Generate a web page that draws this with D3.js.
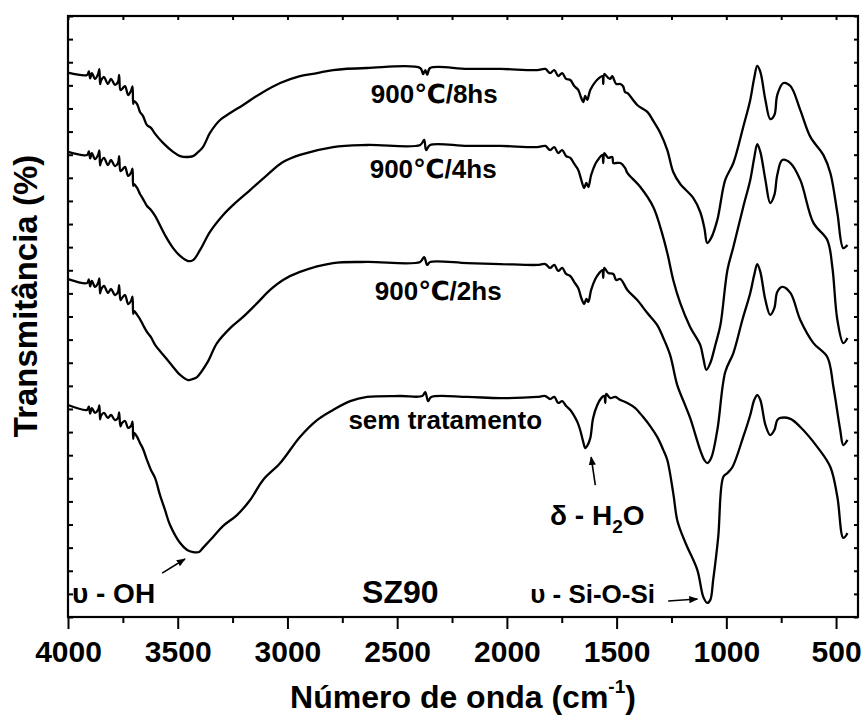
<!DOCTYPE html>
<html>
<head>
<meta charset="utf-8">
<script src="https://cdn.jsdelivr.net/npm/d3@7"></script>
<style>
  html, body { margin: 0; padding: 0; background: #fff; }
  svg { display: block; }
  text { font-family: "Liberation Sans", Arial, "DejaVu Sans", sans-serif; font-weight: bold; fill: #000; }
</style>
</head>
<body>
<svg id="chart" width="863" height="716"></svg>
<script>
// ---------------- DATA (wavenumber cm^-1, transmittance a.u.) ----------------
const xMajorTicks = [4000, 3500, 3000, 2500, 2000, 1500, 1000, 500];
const xMinorTicks = [3750, 3250, 2750, 2250, 1750, 1250, 750];
const yTicks = d3.range(0, 27, 1);

const seriesNames = ["900℃/8hs", "900℃/4hs", "900℃/2hs", "sem tratamento"];

const spectrum8h = [[4000,23.55],[3913,23.45],[3905,23.60],[3899,23.30],[3891,23.53],[3877,23.28],[3863,23.49],[3857,23.70],[3854,23.05],[3850,23.19],[3836,23.36],[3818,23.06],[3804,23.28],[3786,23.02],[3772,23.15],[3767,23.45],[3761,22.80],[3754,22.84],[3740,22.97],[3726,22.58],[3713,22.76],[3706,22.95],[3703,22.20],[3699,22.32],[3685,22.19],[3672,21.85],[3658,21.67],[3640,21.28],[3622,21.16],[3603,20.90],[3567,20.51],[3521,20.12],[3489,19.94],[3457,19.90],[3430,19.94],[3412,20.07],[3385,20.33],[3353,20.94],[3307,21.50],[3261,21.80],[3202,22.15],[3125,22.63],[3033,23.10],[2943,23.40],[2865,23.53],[2792,23.66],[2637,23.75],[2395,23.75],[2382,23.49],[2372,23.66],[2363,23.45],[2350,23.75],[2181,23.71],[2030,23.71],[1862,23.66],[1825,23.71],[1803,23.53],[1784,23.66],[1766,23.40],[1748,23.53],[1730,23.28],[1711,23.23],[1693,22.97],[1675,22.80],[1661,22.45],[1652,22.28],[1643,22.54],[1634,22.37],[1620,22.80],[1597,23.15],[1579,23.32],[1565,23.40],[1561,23.06],[1556,23.49],[1538,23.32],[1529,23.28],[1520,23.40],[1502,23.06],[1483,23.06],[1470,22.95],[1461,22.70],[1451,22.67],[1406,22.15],[1360,21.85],[1333,21.46],[1301,20.94],[1269,20.20],[1242,19.25],[1210,18.73],[1151,18.13],[1119,17.52],[1100,16.83],[1087,16.18],[1069,16.40],[1041,17.18],[1005,18.91],[968,19.64],[923,21.20],[891,22.37],[873,23.32],[859,23.84],[845,23.58],[822,22.37],[800,21.54],[781,21.72],[768,22.58],[740,23.10],[708,22.97],[663,21.93],[617,20.77],[558,19.99],[526,19.21],[494,17.48],[467,15.96],[448,16.09]];

const spectrum4h = [[4000,20.12],[3913,19.99],[3905,20.14],[3899,19.84],[3891,20.07],[3877,19.81],[3863,19.99],[3857,20.19],[3854,19.54],[3850,19.68],[3836,19.86],[3818,19.55],[3804,19.77],[3786,19.51],[3772,19.64],[3767,19.94],[3761,19.29],[3754,19.34],[3740,19.47],[3726,19.08],[3713,19.21],[3706,19.40],[3703,18.65],[3699,18.73],[3685,18.56],[3672,18.30],[3658,18.08],[3640,17.78],[3622,17.61],[3603,17.35],[3558,16.52],[3521,15.96],[3489,15.62],[3453,15.40],[3430,15.44],[3398,15.88],[3353,16.66],[3293,17.39],[3248,17.82],[3170,18.47],[3093,19.12],[3020,19.68],[2943,19.99],[2792,20.33],[2637,20.42],[2395,20.42],[2377,20.64],[2368,20.20],[2350,20.42],[2181,20.38],[2030,20.38],[1862,20.33],[1825,20.38],[1803,20.20],[1784,20.33],[1766,20.07],[1748,20.20],[1730,19.94],[1711,19.86],[1693,19.60],[1675,19.34],[1661,18.91],[1648,18.56],[1638,18.78],[1629,18.60],[1616,19.12],[1597,19.60],[1579,19.86],[1565,19.99],[1561,19.64],[1556,20.07],[1538,19.86],[1520,19.90],[1515,19.64],[1502,19.64],[1483,19.64],[1461,19.42],[1451,19.21],[1392,18.60],[1333,17.74],[1301,16.87],[1269,15.75],[1242,14.58],[1210,13.58],[1165,12.55],[1119,11.77],[1105,11.20],[1091,10.69],[1073,10.99],[1050,11.77],[1027,12.63],[995,15.01],[968,16.01],[923,17.74],[891,18.91],[873,19.86],[859,20.46],[845,20.12],[822,18.91],[800,17.91],[781,18.26],[768,19.12],[745,19.77],[708,19.64],[663,18.91],[603,17.05],[540,16.31],[517,15.14],[494,12.85],[467,11.85],[448,12.07]];

const spectrum2h = [[4000,14.62],[3913,14.45],[3905,14.60],[3899,14.30],[3891,14.54],[3877,14.28],[3863,14.45],[3857,14.65],[3854,14.00],[3850,14.15],[3836,14.32],[3818,14.02],[3804,14.19],[3786,13.93],[3772,14.06],[3767,14.36],[3761,13.71],[3754,13.80],[3740,13.93],[3726,13.54],[3713,13.67],[3706,13.86],[3703,13.11],[3699,13.24],[3685,13.07],[3672,12.89],[3658,12.63],[3640,12.33],[3622,12.11],[3603,11.77],[3558,11.25],[3521,10.82],[3489,10.47],[3453,10.25],[3430,10.30],[3412,10.38],[3366,10.99],[3321,11.85],[3261,12.50],[3202,12.98],[3138,13.58],[3079,14.15],[3020,14.58],[2943,14.93],[2792,15.31],[2637,15.36],[2395,15.36],[2377,15.57],[2363,15.23],[2350,15.36],[2181,15.31],[2030,15.27],[1862,15.23],[1825,15.27],[1803,15.10],[1784,15.23],[1766,14.97],[1748,15.10],[1730,14.84],[1711,14.75],[1693,14.49],[1675,14.23],[1661,13.80],[1648,13.54],[1638,13.76],[1629,13.63],[1616,14.15],[1597,14.62],[1579,14.88],[1565,15.01],[1561,14.67],[1556,15.10],[1538,14.88],[1515,14.84],[1502,14.58],[1483,14.62],[1451,14.15],[1406,13.71],[1360,13.15],[1315,12.63],[1287,12.07],[1256,11.33],[1224,10.04],[1192,9.26],[1165,8.61],[1119,7.22],[1100,6.79],[1087,6.66],[1069,6.88],[1041,8.09],[1005,10.60],[968,11.42],[927,12.85],[891,14.02],[873,14.80],[859,15.27],[845,14.93],[822,13.71],[800,13.07],[781,13.37],[768,14.06],[745,14.28],[708,14.02],[663,12.85],[603,11.85],[540,11.25],[512,9.95],[481,8.09],[467,7.44],[448,7.66]];

const spectrumRaw = [[4000,9.17],[3913,8.96],[3905,9.10],[3899,8.80],[3891,9.04],[3877,8.83],[3863,8.96],[3857,9.15],[3854,8.55],[3850,8.70],[3836,8.83],[3818,8.61],[3804,8.74],[3786,8.52],[3772,8.61],[3767,8.85],[3761,8.25],[3754,8.39],[3740,8.48],[3726,8.18],[3713,8.26],[3706,8.45],[3703,7.70],[3699,7.96],[3685,7.79],[3672,7.53],[3658,7.27],[3640,6.79],[3622,6.36],[3603,6.01],[3581,5.28],[3558,4.63],[3535,3.98],[3489,3.20],[3457,2.90],[3430,2.81],[3403,2.81],[3385,2.99],[3339,3.46],[3293,3.94],[3230,4.41],[3170,5.06],[3111,5.93],[3033,6.66],[2943,7.79],[2865,8.52],[2792,8.96],[2714,9.34],[2637,9.52],[2486,9.56],[2386,9.56],[2372,9.73],[2359,9.34],[2345,9.52],[2181,9.52],[2030,9.47],[1862,9.52],[1825,9.56],[1803,9.43],[1784,9.52],[1766,9.26],[1748,9.34],[1730,9.13],[1711,8.96],[1698,8.78],[1679,8.44],[1666,8.09],[1652,7.57],[1643,7.31],[1634,7.40],[1620,7.74],[1607,8.61],[1588,9.17],[1570,9.47],[1556,9.56],[1552,9.26],[1547,9.65],[1529,9.47],[1506,9.52],[1483,9.39],[1451,9.26],[1415,9.04],[1379,8.65],[1347,8.26],[1315,7.79],[1287,7.22],[1269,6.79],[1242,5.36],[1224,4.20],[1201,3.55],[1178,3.03],[1132,2.03],[1105,0.87],[1087,0.61],[1073,0.74],[1060,1.60],[1037,3.46],[1014,6.06],[995,6.23],[972,6.49],[923,7.79],[891,8.74],[873,9.39],[859,9.60],[845,9.39],[822,8.31],[800,7.87],[781,8.09],[768,8.52],[754,8.61],[708,8.57],[663,8.22],[585,7.35],[526,6.49],[494,5.19],[467,3.42],[448,3.63]];

const spectra = [spectrum8h, spectrum4h, spectrum2h, spectrumRaw];

// series label anchor (wavenumber, value)
const seriesLabelPos = [[2331, 22.24], [2336, 18.99], [2313, 13.71], [2281, 8.13]];

// ---------------- CHART ----------------
const W = 863, H = 716;
const margin = {left: 68, right: 5, top: 16, bottom: 99};
const svg = d3.select("#chart");

const x = d3.scaleLinear().domain([4000, 400]).range([margin.left, W - margin.right]);
const y = d3.scaleLinear().domain([0, 26]).range([H - margin.bottom, margin.top]);

const x0 = x.range()[0], x1 = x.range()[1], y0 = y.range()[0], y1 = y.range()[1];

// axes
const gBottomMajor = svg.append("g").attr("transform", `translate(0,${y0})`)
  .call(d3.axisBottom(x).tickValues(xMajorTicks).tickSize(12).tickFormat(d3.format("d")));
const gBottomMinor = svg.append("g").attr("transform", `translate(0,${y0})`)
  .call(d3.axisBottom(x).tickValues(xMinorTicks).tickSize(6).tickFormat(""));
const gTop = svg.append("g").attr("transform", `translate(0,${y1})`)
  .call(d3.axisTop(x).tickValues(xMajorTicks.concat(xMinorTicks)).tickSize(-4).tickFormat(""));
const gLeft = svg.append("g").attr("transform", `translate(${x0},0)`)
  .call(d3.axisLeft(y).tickValues(yTicks).tickSize(-5).tickFormat(""));
const gRight = svg.append("g").attr("transform", `translate(${x1},0)`)
  .call(d3.axisRight(y).tickValues(yTicks).tickSize(-4).tickFormat(""));

[gBottomMajor, gBottomMinor, gTop, gLeft, gRight].forEach(g => {
  g.select(".domain").remove();
  g.selectAll(".tick line").attr("stroke", "#000").attr("stroke-width", 2);
});
gBottomMajor.selectAll(".tick text")
  .attr("y", 45).attr("dy", 0)
  .style("font-size", "30px").style("font-weight", "bold")
  .style("font-family", '"Liberation Sans", Arial, sans-serif')
  .attr("fill", "#000");

// frame
svg.append("rect")
  .attr("x", x0).attr("y", y1).attr("width", x1 - x0).attr("height", y0 - y1)
  .attr("fill", "none").attr("stroke", "#000").attr("stroke-width", 2.2);

// spectra
const line = d3.line()
  .x(d => x(d[0])).y(d => y(d[1]))
  .curve(d3.curveCatmullRom.alpha(0.5));

svg.append("g").selectAll("path").data(spectra).join("path")
  .attr("d", line)
  .attr("fill", "none").attr("stroke", "#000")
  .attr("stroke-width", 2.3).attr("stroke-linejoin", "round");

// series labels
svg.append("g").selectAll("text").data(seriesNames).join("text")
  .attr("x", (d, i) => x(seriesLabelPos[i][0]))
  .attr("y", (d, i) => y(seriesLabelPos[i][1]))
  .attr("text-anchor", "middle")
  .style("font-size", "26px")
  .text(d => d);

// annotations
svg.append("text").attr("x", x(3982)).attr("y", y(0.61))
  .style("font-size", "28px").text("υ - OH");
svg.append("text").attr("x", x(2660)).attr("y", y(0.61))
  .style("font-size", "32px").text("SZ90");
svg.append("text").attr("x", x(1894)).attr("y", y(0.61))
  .style("font-size", "26px").text("υ - Si-O-Si");
const dh = svg.append("text").attr("x", x(1803)).attr("y", y(3.98)).style("font-size", "28px");
dh.append("tspan").text("δ - H");
dh.append("tspan").attr("dy", 8).style("font-size", "19px").text("2");
dh.append("tspan").attr("dy", -8).text("O");

// arrows
const defs = svg.append("defs");
defs.append("marker").attr("id", "arrow")
  .attr("viewBox", "0 0 10 10").attr("refX", 9).attr("refY", 5)
  .attr("markerWidth", 9).attr("markerHeight", 9).attr("markerUnits", "userSpaceOnUse")
  .attr("orient", "auto")
  .append("path").attr("d", "M0,1 L10,5 L0,9 Z").attr("fill", "#000");

const arrows = [
  [[3571, 1.90], [3467, 2.51]],
  [[1597, 5.71], [1616, 6.92]],
  [[1265, 0.69], [1132, 0.78]]
];
svg.append("g").selectAll("line").data(arrows).join("line")
  .attr("x1", d => x(d[0][0])).attr("y1", d => y(d[0][1]))
  .attr("x2", d => x(d[1][0])).attr("y2", d => y(d[1][1]))
  .attr("stroke", "#000").attr("stroke-width", 1.6)
  .attr("marker-end", "url(#arrow)");

// axis titles
const xt = svg.append("text").attr("x", 463).attr("y", 708)
  .attr("text-anchor", "middle").style("font-size", "32px");
xt.append("tspan").text("Número de onda (cm");
xt.append("tspan").attr("dy", -15).style("font-size", "19px").text("-1");
xt.append("tspan").attr("dy", 15).text(")");

svg.append("text")
  .attr("transform", "translate(37,296) rotate(-90)")
  .attr("text-anchor", "middle").style("font-size", "33px")
  .text("Transmitância (%)");
</script>
</body>
</html>
